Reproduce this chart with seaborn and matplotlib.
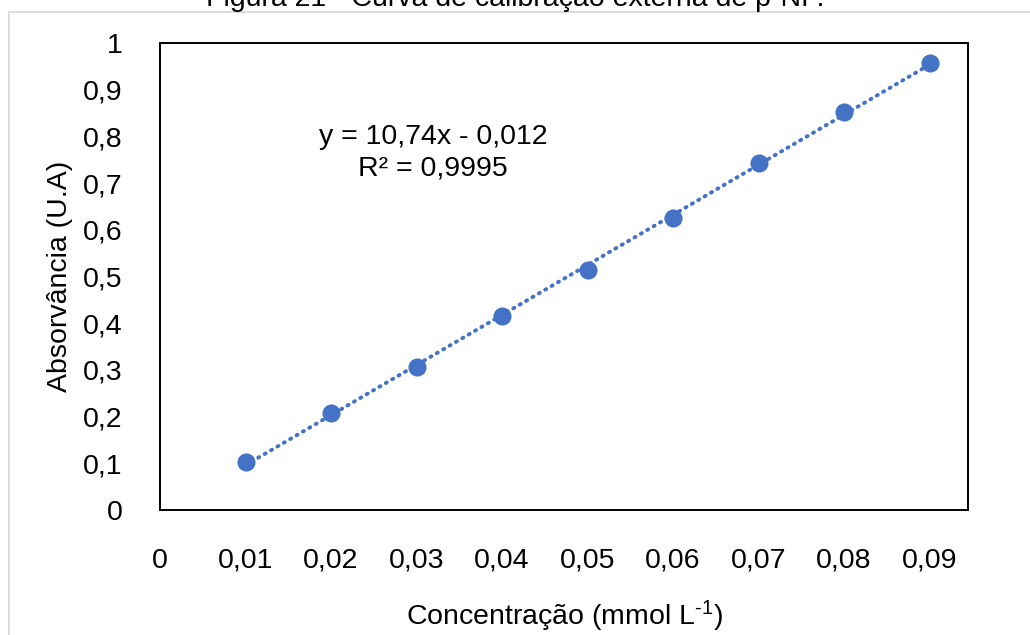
import numpy as np
import pandas as pd
import matplotlib
matplotlib.use("Agg")
import matplotlib.pyplot as plt
from matplotlib.patches import Rectangle
import seaborn as sns

# calibration points
concentracao = [0.01, 0.02, 0.03, 0.04, 0.05, 0.06, 0.07, 0.08, 0.09]
absorvancia = [0.103, 0.208, 0.306, 0.415, 0.514, 0.625, 0.743, 0.852, 0.957]

x_ticks = [0, 0.01, 0.02, 0.03, 0.04, 0.05, 0.06, 0.07, 0.08, 0.09]
x_tick_labels = ["0", "0,01", "0,02", "0,03", "0,04", "0,05", "0,06", "0,07", "0,08", "0,09"]
y_ticks = [0, 0.1, 0.2, 0.3, 0.4, 0.5, 0.6, 0.7, 0.8, 0.9, 1.0]
y_tick_labels = ["0", "0,1", "0,2", "0,3", "0,4", "0,5", "0,6", "0,7", "0,8", "0,9", "1"]

equacao = "y = 10,74x - 0,012\nR² = 0,9995"
titulo = "Figura 21 - Curva de calibração externa de p-NP."

sns.set_theme(style="white")
plt.rcParams["font.family"] = ["Liberation Sans", "DejaVu Sans"]
plt.rcParams["mathtext.fontset"] = "custom"
plt.rcParams["mathtext.rm"] = "Liberation Sans"
plt.rcParams["mathtext.it"] = "Liberation Sans"

df = pd.DataFrame({"conc": concentracao, "abs": absorvancia})

# linear trendline through the points
coef = np.polyfit(df["conc"], df["abs"], 1)
trend = pd.DataFrame({"conc": [concentracao[0], concentracao[-1]]})
trend["abs"] = np.polyval(coef, trend["conc"])

blue = "#4472C4"
fig = plt.figure(figsize=(10.3, 6.35), dpi=100)
ax = fig.add_axes([160 / 1030, 1 - 510 / 635, 808 / 1030, 467 / 635])

sns.lineplot(data=trend, x="conc", y="abs", ax=ax, color=blue, lw=2.8,
             linestyle=(0, (0.3, 1.6)), dash_capstyle="round", zorder=2)
sns.scatterplot(data=df, x="conc", y="abs", ax=ax, color=blue, s=170,
                edgecolor=blue, linewidth=0, zorder=3)

ax.set_xlim(0, 0.0945)
ax.set_ylim(0, 1)
ax.set_xticks(x_ticks)
ax.set_xticklabels(x_tick_labels)
ax.set_yticks(y_ticks)
ax.set_yticklabels(y_tick_labels)
ax.tick_params(axis="both", length=0, labelsize=20.5, colors="black")
ax.tick_params(axis="x", pad=27)
ax.tick_params(axis="y", pad=27)

for sp in ax.spines.values():
    sp.set_color("black")
    sp.set_linewidth(1.4)

ax.set_xlabel(r"Concentração (mmol L$^{\text{-1}}$)", fontsize=20.5, color="black")
ax.set_ylabel("Absorvância (U.A)", fontsize=20.5, color="black")
ax.xaxis.set_label_coords(0.5, -0.19)
ax.yaxis.set_label_coords(-0.108, 0.5)

ax.text(0.338, 0.765, equacao, transform=ax.transAxes, ha="center", va="center",
        fontsize=20.5, linespacing=1.3, color="black")

fig.text(0.5, 1 - 6 / 635, titulo, ha="center", va="baseline", fontsize=20.5, color="black")

# light outer chart frame
fig.patches.append(Rectangle((9 / 1030, -0.1), 1.2, 1.1 - 12 / 635, transform=fig.transFigure,
                             fill=False, edgecolor="#d9d9d9", lw=1.3))

fig.savefig("out.png", dpi=100)
